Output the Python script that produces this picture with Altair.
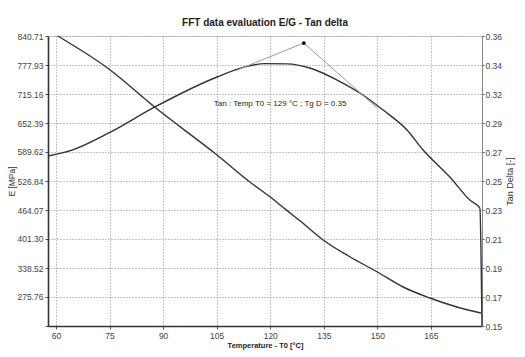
import altair as alt
import pandas as pd

# ---- data ----
temp_e = [60.5, 74.8, 87.7, 105.1, 114.3, 120.0, 124.2, 128.4, 134.8, 142.4, 150.0, 157.2, 164.7, 172.3, 179.0]
e_mod = [840.7, 769.3, 686.4, 583.1, 524.7, 492.2, 466.0, 440.1, 399.1, 362.3, 329.9, 297.4, 273.6, 254.1, 241.1]

temp_tan = [57.8, 64.5, 74.8, 87.7, 105.1, 112.9, 118.5, 124.7, 131.1, 138.7, 145.1, 151.6, 158.3, 162.8, 170.3, 175.9, 178.7, 179.3]
tan_delta = [0.2731, 0.2774, 0.2898, 0.3086, 0.3303, 0.3376, 0.3400, 0.3398, 0.3368, 0.3281, 0.3187, 0.3064, 0.2919, 0.2774, 0.2579, 0.2412, 0.2354, 0.15]

tangent_t = [110.1, 129.4, 150.0]
tangent_tan = [0.3347, 0.3549, 0.3078]

peak_t = [129.4]
peak_tan = [0.3549]

note_t = [104.2]
note_tan = [0.3107]
note_text = ["Tan : Temp T0 = 129  °C ; Tg D = 0.35"]

x_ticks = [60, 75, 90, 105, 120, 135, 150, 165]
x_domain = [57.76, 179.3]
e_ticks = [212.98, 275.76, 338.52, 401.30, 464.07, 526.84, 589.62, 652.39, 715.16, 777.93, 840.71]
tan_ticks = [0.150, 0.171, 0.192, 0.213, 0.234, 0.255, 0.276, 0.297, 0.318, 0.339, 0.360]
tan_labels = ["0.15", "0.17", "0.19", "0.21", "0.23", "0.25", "0.27", "0.29", "0.32", "0.34", "0.36"]

FONT = "Liberation Sans"

df_e = pd.DataFrame({"T": temp_e, "E": e_mod})
df_tan = pd.DataFrame({"T": temp_tan, "tan": tan_delta})
df_tg = pd.DataFrame({"T": tangent_t, "tan": tangent_tan})
df_pk = pd.DataFrame({"T": peak_t, "tan": peak_tan})
df_note = pd.DataFrame({"T": note_t, "tan": note_tan, "txt": note_text})

x_enc = alt.X(
    "T:Q",
    scale=alt.Scale(domain=x_domain, nice=False, zero=False),
    axis=alt.Axis(
        values=x_ticks, grid=True, gridDash=[1, 2], gridColor="#888",
        domainColor="#333", domainWidth=1.6, tickSize=3, tickColor="#555",
        labelFont=FONT, labelFontSize=8.5, labelColor="#444", labelPadding=2,
        title="Temperature - T0  [°C]", titleFont=FONT, titleFontSize=7.5,
        titleFontWeight="bold", titleColor="#222", titlePadding=2,
    ),
)

e_axis = alt.Axis(
    orient="left", values=e_ticks, grid=True, gridDash=[1, 2], gridColor="#888",
    domainColor="#333", domainWidth=1.6, tickSize=3, tickColor="#555",
    labelFont=FONT, labelFontSize=8.5, labelColor="#444", labelPadding=2,
    labelExpr="datum.value < 213 ? '' : format(datum.value, '.2f')",
    title="E [MPa]", titleFont=FONT, titleFontSize=8.5, titleFontWeight="normal",
    titleColor="#333", titlePadding=1,
)

tan_expr = "[" + ",".join("'%s'" % l for l in tan_labels) + "][round((datum.value-0.15)/0.021)]"
tan_axis = alt.Axis(
    orient="right", values=tan_ticks, grid=False,
    domainColor="#888", domainWidth=1, tickSize=2, tickColor="#555",
    labelFont=FONT, labelFontSize=8.5, labelColor="#444", labelPadding=1,
    labelExpr=tan_expr,
    title="Tan Delta [-]", titleFont=FONT, titleFontSize=9, titleFontWeight="normal",
    titleColor="#333", titlePadding=4, titleAngle=270, titleBaseline="top",
)
tan_scale = alt.Scale(domain=[0.15, 0.36], nice=False, zero=False)
y_tan = alt.Y("tan:Q", scale=tan_scale, axis=tan_axis)

e_line = alt.Chart(df_e).mark_line(color="#333", strokeWidth=1.4, interpolate="monotone").encode(
    x=x_enc,
    y=alt.Y("E:Q", scale=alt.Scale(domain=[212.98, 840.71], nice=False, zero=False), axis=e_axis),
)

tan_line = alt.Chart(df_tan).mark_line(color="#333", strokeWidth=1.4, interpolate="monotone").encode(x=x_enc, y=y_tan)
tg_line = alt.Chart(df_tg).mark_line(color="#999", strokeWidth=1).encode(x=x_enc, y=y_tan)
pk_point = alt.Chart(df_pk).mark_point(filled=True, color="#000", size=14, opacity=1).encode(x=x_enc, y=y_tan)
note = alt.Chart(df_note).mark_text(
    align="left", baseline="middle", font=FONT, fontSize=8, color="#222"
).encode(x=x_enc, y=y_tan, text="txt:N")

right = alt.layer(tan_line, tg_line, pk_point, note)

chart = alt.layer(e_line, right).resolve_scale(y="independent").properties(
    width=434,
    height=290,
    autosize=alt.AutoSizeParams(type="none"),
    padding={"left": 40, "top": 28, "right": 35, "bottom": 30},
    title=alt.TitleParams(
        "FFT data evaluation E/G - Tan delta", font=FONT, fontSize=10,
        fontWeight="bold", color="#222", offset=4, anchor="middle",
    ),
).configure_view(stroke="#999", strokeWidth=1).configure(background="white")

chart.save("out.html", embed_options={"renderer": "svg", "actions": False})
